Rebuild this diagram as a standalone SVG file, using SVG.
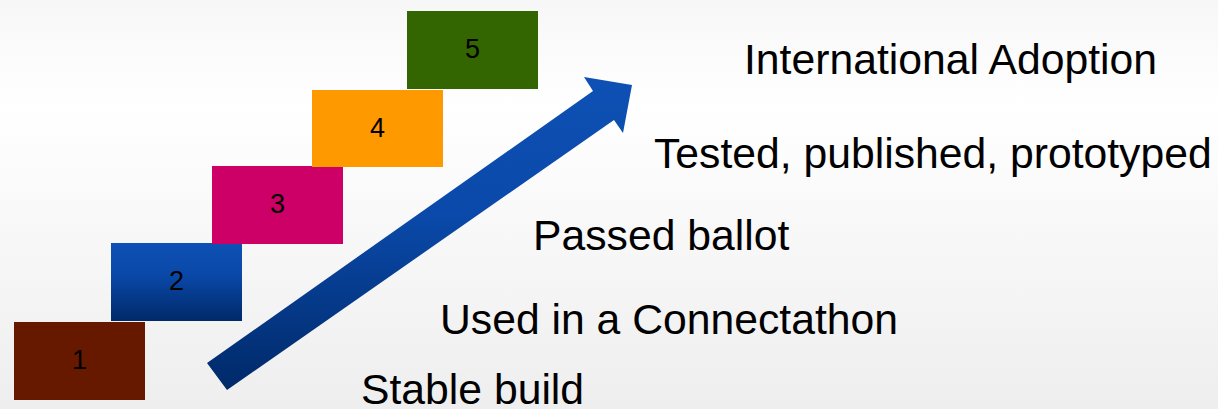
<svg xmlns="http://www.w3.org/2000/svg" width="1218" height="409" viewBox="0 0 1218 409">
  <defs>
    <linearGradient id="bg" x1="0" y1="0" x2="0" y2="1">
      <stop offset="0" stop-color="#f7f7f7"/>
      <stop offset="0.26" stop-color="#ffffff"/>
      <stop offset="1" stop-color="#eeeeee"/>
    </linearGradient>
    <linearGradient id="blue" x1="0" y1="0" x2="0" y2="1">
      <stop offset="0" stop-color="#0e50b4"/>
      <stop offset="0.4" stop-color="#0a49a9"/>
      <stop offset="1" stop-color="#002968"/>
    </linearGradient>
    <linearGradient id="arrowGrad" gradientUnits="userSpaceOnUse" x1="0" y1="77" x2="0" y2="390">
      <stop offset="0" stop-color="#0e50b4"/>
      <stop offset="0.45" stop-color="#0a49a9"/>
      <stop offset="1" stop-color="#002968"/>
    </linearGradient>
    <style>
      .num { font-family: "Liberation Sans", Arial, sans-serif; font-size: 27px; fill: #000; text-anchor: middle; }
      .lbl { font-family: "Liberation Sans", Arial, sans-serif; font-size: 42.7px; fill: #000; }
    </style>
  </defs>
  <rect x="0" y="0" width="1218" height="409" fill="url(#bg)"/>

  <g id="connectors">
    <polygon id="arrow" fill="url(#arrowGrad)" points="207,363 593,91 584,77 632,85 623,133 614,120 227,390"/>
  </g>

  <g id="step1">
    <rect x="14" y="322" width="131" height="78" fill="#671900"/>
    <text class="num" x="79.5" y="369">1</text>
  </g>
  <g id="step2">
    <rect x="111" y="243" width="131" height="78" fill="url(#blue)"/>
    <text class="num" x="176.5" y="290">2</text>
  </g>
  <g id="step3">
    <rect x="212" y="166" width="131" height="78" fill="#cc0066"/>
    <text class="num" x="277.5" y="213">3</text>
  </g>
  <g id="step4">
    <rect x="312" y="90" width="131" height="77" fill="#ff9900"/>
    <text class="num" x="377.5" y="137">4</text>
  </g>
  <g id="step5">
    <rect x="407" y="11" width="131" height="78" fill="#336600"/>
    <text class="num" x="472.5" y="58">5</text>
  </g>

  <g id="labels">
    <text class="lbl" x="744" y="74">International Adoption</text>
    <text class="lbl" x="654" y="168">Tested, published, prototyped</text>
    <text class="lbl" x="533" y="250">Passed ballot</text>
    <text class="lbl" x="440" y="334">Used in a Connectathon</text>
    <text class="lbl" x="361" y="404">Stable build</text>
  </g>
</svg>
